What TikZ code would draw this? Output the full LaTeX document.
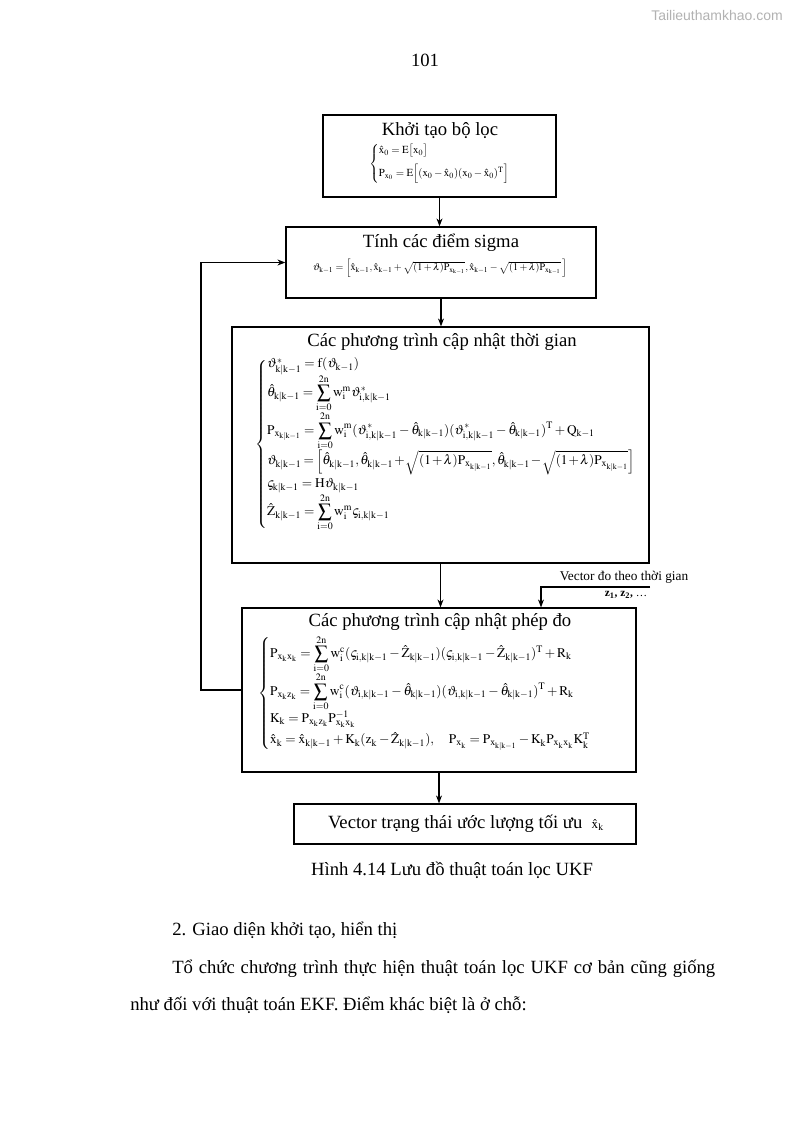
\documentclass[tikz,border=0pt]{standalone}
\usepackage{amsmath}
\usepackage{array}
\usepackage{mathptmx}
\usepackage[no-math]{fontspec}
\setmainfont{Liberation Serif}
\newfontfamily\wmfont{Liberation Sans}
\usetikzlibrary{fit,arrows.meta}
\newcommand{\hv}[1]{\hat{\mathrm{#1}}}
\newcolumntype{R}{>{\fam0}l}
\begin{document}
\begin{tikzpicture}[x=0.75pt,y=-0.75pt,
  box/.style={draw, line width=0.9pt, inner sep=0pt},
  arr/.style={-{Stealth[length=6pt,width=4.5pt]}, line width=0.8pt},
  ttl/.style={font=\fontsize{14}{16}\selectfont, inner sep=0pt},
  eq/.style={font=\fontsize{10}{12}\selectfont, inner sep=0pt},
  eqs/.style={font=\fontsize{8.1}{10}\selectfont, inner sep=0pt},
  eqt/.style={font=\fontsize{7.6}{9}\selectfont, inner sep=0pt},
  lbl/.style={font=\fontsize{10}{12}\selectfont, inner sep=0pt},
  txt/.style={font=\fontsize{14}{17}\selectfont, inner sep=0pt}]
\useasboundingbox (0,0) rectangle (794,1123);
\fill[white] (0,0) rectangle (794,1123);

% watermark and page number
\node[font=\wmfont\fontsize{10.5}{12}\selectfont, text=black!30, inner sep=0pt] (wm) at (717,15) {Tailieuthamkhao.com};
\node[txt] (pn) at (425,60) {101};

% boxes
\node[box, fit={(323,115)(556,197)}] (b1) {};
\node[box, fit={(286,227)(596,298)}] (b2) {};
\node[box, fit={(232,327)(649,563)}] (b3) {};
\node[box, fit={(242,608)(636,772)}] (b4) {};
\node[box, fit={(294,804)(636,844)}] (b5) {};

% box 1
\node[ttl] (t1) at (440,131) {Khởi tạo bộ lọc};
\node[eqs, anchor=west] (e1) at (369,164) {$\left\{\begin{array}{@{}R@{}}
\hv{x}_0 = E\big[x_0\big]\\[5pt]
P_{x_0} = E\Big[(x_0-\hv{x}_0)(x_0-\hv{x}_0)^{T}\Big]
\end{array}\right.$};

% box 2
\node[ttl] (t2) at (441,243) {Tính các điểm sigma};
\node[eqt] (e2) at (440,268) {$\fam0 \vartheta_{k-1} = \Big[\hv{x}_{k-1},\hv{x}_{k-1}+\sqrt{(1+\lambda)P_{x_{k-1}}},\hv{x}_{k-1}-\sqrt{(1+\lambda)P_{x_{k-1}}}\,\Big]$};

% box 3
\node[ttl] (t3) at (442,342) {Các phương trình cập nhật thời gian};
\node[eq, anchor=west] (e3) at (255,444) {$\left\{\begin{array}{@{}R@{}}
\vartheta^{*}_{k|k-1} = f(\vartheta_{k-1})\\[-0.5pt]
\hat{\theta}_{k|k-1} = \displaystyle\sum_{i=0}^{2n} w_i^{m}\vartheta^{*}_{i,k|k-1}\\[8pt]
P_{x_{k|k-1}} = \displaystyle\sum_{i=0}^{2n} w_i^{m}(\vartheta^{*}_{i,k|k-1}-\hat{\theta}_{k|k-1})(\vartheta^{*}_{i,k|k-1}-\hat{\theta}_{k|k-1})^{T}+Q_{k-1}\\[4pt]
\thickmuskip=3mu \medmuskip=1.5mu \vartheta_{k|k-1} = \Big[\hat{\theta}_{k|k-1},\hat{\theta}_{k|k-1}+\sqrt{(1+\lambda)P_{x_{k|k-1}}},\hat{\theta}_{k|k-1}-\sqrt{(1+\lambda)P_{x_{k|k-1}}}\Big]\\[5pt]
\varsigma_{k|k-1} = H\vartheta_{k|k-1}\\[1pt]
\hat{Z}_{k|k-1} = \displaystyle\sum_{i=0}^{2n} w_i^{m}\varsigma_{i,k|k-1}
\end{array}\right.$};

% box 4
\node[ttl] (t4) at (440,622) {Các phương trình cập nhật phép đo};
\node[eq, anchor=west] (e4) at (258,693) {$\left\{\begin{array}{@{}R@{}}
P_{x_kx_k} = \displaystyle\sum_{i=0}^{2n} w_i^{c}(\varsigma_{i,k|k-1}-\hat{Z}_{k|k-1})(\varsigma_{i,k|k-1}-\hat{Z}_{k|k-1})^{T}+R_k\\[4pt]
P_{x_kz_k} = \displaystyle\sum_{i=0}^{2n} w_i^{c}(\vartheta_{i,k|k-1}-\hat{\theta}_{k|k-1})(\vartheta_{i,k|k-1}-\hat{\theta}_{k|k-1})^{T}+R_k\\[4pt]
K_k = P_{x_kz_k}P^{-1}_{x_kx_k}\\[4pt]
\hv{x}_k = \hv{x}_{k|k-1}+K_k(z_k-\hat{Z}_{k|k-1}),\quad P_{x_k} = P_{x_{k|k-1}}-K_kP_{x_kx_k}K_k^{T}
\end{array}\right.$};

% box 5
\node[ttl] (t5) at (466,824) {Vector trạng thái ước lượng tối ưu\ \ {\fontsize{10}{12}\selectfont$\fam0\hv{x}_{k}$}};

% arrows
\draw[arr] (b1.south) -- (b1.south |- b2.north);
\draw[arr] (b2.south) -- (b2.south |- b3.north);
\draw[arr] (b3.south) -- (b3.south |- b4.north);
\draw[arr] (b4.south) -- (b4.south |- b5.north);
\coordinate (fbx) at (201,0);
\draw[arr] (b4.west) -- (b4.west -| fbx) |- (b2.west);
\coordinate (vin) at (650,587);
\coordinate (vx) at (541,0);
\draw[arr] (vin) -- (vin -| vx) -- (vx |- b4.north);
\node[lbl] (vl) at (624,577) {Vector đo theo thời gian};
\node[lbl, font=\fontsize{8.5}{10}\selectfont\bfseries] (zl) at (626,595) {z\textsubscript{1}, z\textsubscript{2}, \mdseries\dots};

% caption and body text
\node[txt] (cap) at (452,870) {Hình 4.14 Lưu đồ thuật toán lọc UKF};
\node[txt, anchor=base west] (h2) at (172,935) {2. Giao diện khởi tạo, hiển thị};
\node[txt, anchor=base west] (p1) at (172,973) {\makebox[407.25pt][s]{Tổ chức chương trình thực hiện thuật toán lọc UKF cơ bản cũng giống}};
\node[txt, anchor=base west] (p2) at (130,1010) {như đối với thuật toán EKF. Điểm khác biệt là ở chỗ:};
\end{tikzpicture}
\end{document}
